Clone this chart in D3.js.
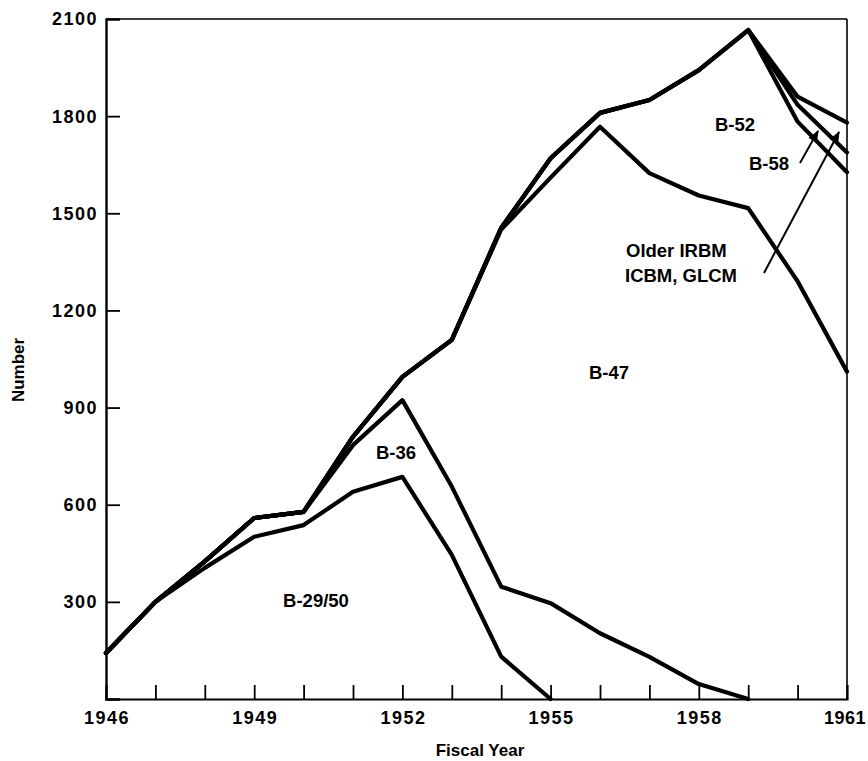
<!DOCTYPE html>
<html>
<head>
<meta charset="utf-8">
<script src="https://cdn.jsdelivr.net/npm/d3@7"></script>
<style>
  html, body { margin: 0; padding: 0; background: #fff; }
  svg { display: block; }
  text { font-family: "Liberation Sans", Arial, Helvetica, sans-serif; font-weight: bold; fill: #000; }
</style>
</head>
<body>
<svg id="chart" width="868" height="761"></svg>
<script>
// ---- data (fiscal years and number in inventory per system) ----
const years = [1946,1947,1948,1949,1950,1951,1952,1953,1954,1955,1956,1957,1958,1959,1960,1961];
const b2950   = [142,300,405,501,537,640,686,445,131,0,0,0,0,0,0,0];
const b36     = [0,0,20,58,41,144,237,211,216,296,203,130,46,0,0,0];
const b47     = [0,0,0,0,0,26,72,453,1103,1314,1564,1494,1509,1516,1290,1011];
const b52     = [0,0,0,0,0,0,0,0,5,60,43,226,387,550,493,616];
const b58     = [0,0,0,0,0,0,0,0,0,0,0,0,0,0,52,61];
const missiles= [0,0,0,0,0,0,0,0,0,0,0,0,0,0,25,92];
const seriesNames = ["B-29/50","B-36","B-47","B-52","B-58","Older IRBM ICBM, GLCM"];
const yTicks = [300,600,900,1200,1500,1800];
const yTopLabel = "2100";
const xLabelYears = [1946,1949,1952,1955,1958,1961];

const svg = d3.select("#chart");
const x = d3.scaleLinear().domain([1946,1961]).range([106,847]);
const y = d3.scaleLinear().domain([0,2100]).range([699,19]);

// stack
const rows = years.map((yr,i)=>({year:yr, s0:b2950[i], s1:b36[i], s2:b47[i], s3:b52[i], s4:b58[i], s5:missiles[i]}));
const keys = ["s0","s1","s2","s3","s4","s5"];
const stacked = d3.stack().keys(keys)(rows);

// frame
const g = svg.append("g");
g.append("line").attr("x1",x(1946)).attr("x2",x(1961)).attr("y1",y(2100)).attr("y2",y(2100)).attr("stroke","#000").attr("stroke-width",1.6);
g.append("line").attr("x1",x(1961)).attr("x2",x(1961)).attr("y1",y(2100)).attr("y2",y(0)).attr("stroke","#000").attr("stroke-width",1.6);

// axes
const xAxis = d3.axisTop(x).tickValues(d3.range(1947,1961)).tickSize(14).tickFormat("");
const xg = g.append("g").attr("transform",`translate(0,${y(0)})`).call(xAxis);
xg.select(".domain").attr("stroke-width",2.2);
xg.selectAll(".tick line").attr("stroke-width",1.8);

const yAxis = d3.axisRight(y).tickValues(yTicks).tickSize(14).tickFormat("");
const yg = g.append("g").attr("transform",`translate(${x(1946)},0)`).call(yAxis);
yg.select(".domain").attr("stroke-width",2.4);
yg.selectAll(".tick line").attr("stroke-width",1.8);

// tick labels
g.selectAll(".ylab").data(yTicks).join("text")
  .attr("x",98).attr("y",d=>y(d)).attr("dy","0.36em")
  .attr("text-anchor","end").attr("font-size",18).attr("letter-spacing",1.5)
  .text(d=>d);
g.append("text").attr("x",98).attr("y",y(2100)).attr("dy","0.36em")
  .attr("text-anchor","end").attr("font-size",18).attr("letter-spacing",1.5).text(yTopLabel);
g.selectAll(".xlab").data(xLabelYears).join("text")
  .attr("x",d=> d===1961 ? x(d)-2 : x(d)+1).attr("y",724)
  .attr("text-anchor","middle").attr("font-size",18).attr("letter-spacing",d=> d===1961 ? 0.5 : 1.5)
  .text(d=>d);

// axis titles
g.append("text").attr("x",480).attr("y",756).attr("text-anchor","middle").attr("font-size",17).text("Fiscal Year");
g.append("text").attr("transform","translate(24,370) rotate(-90)").attr("text-anchor","middle").attr("font-size",17).text("Number");

// lines (cumulative tops)
const line = d3.line()
  .defined((d,i,arr)=> d[1] > 0 || (i>0 && arr[i-1][1] > 0))
  .x(d=>x(d.data.year)).y(d=>y(d[1]));
stacked.forEach((s)=>{
  g.append("path").datum(s.map(d=>d)).attr("d",line)
    .attr("fill","none").attr("stroke","#000").attr("stroke-width",4.2)
    .attr("stroke-linejoin","round").attr("stroke-linecap","round");
});

// series labels
const lab = (t,xx,yy,anchor="middle")=> g.append("text").attr("x",xx).attr("y",yy).attr("dy","0.36em")
  .attr("text-anchor",anchor).attr("font-size",18.5).text(t);
lab(seriesNames[0],316,600);
lab(seriesNames[1],396,452);
lab(seriesNames[2],609,372);
lab(seriesNames[3],735,124);
lab(seriesNames[4],769,163);
lab("Older IRBM",626,250,"start");
lab("ICBM, GLCM",625,275,"start");

// arrows
const defs = svg.append("defs");
defs.append("marker").attr("id","ah").attr("viewBox","0 0 10 10").attr("refX",9).attr("refY",5)
  .attr("markerWidth",6).attr("markerHeight",6).attr("orient","auto")
  .append("path").attr("d","M0,1 L10,5 L0,9 z").attr("fill","#000");
g.append("line").attr("x1",800).attr("y1",163).attr("x2",818).attr("y2",131)
  .attr("stroke","#000").attr("stroke-width",2).attr("marker-end","url(#ah)");
g.append("line").attr("x1",764).attr("y1",273).attr("x2",839).attr("y2",132)
  .attr("stroke","#000").attr("stroke-width",2).attr("marker-end","url(#ah)");
</script>
</body>
</html>
